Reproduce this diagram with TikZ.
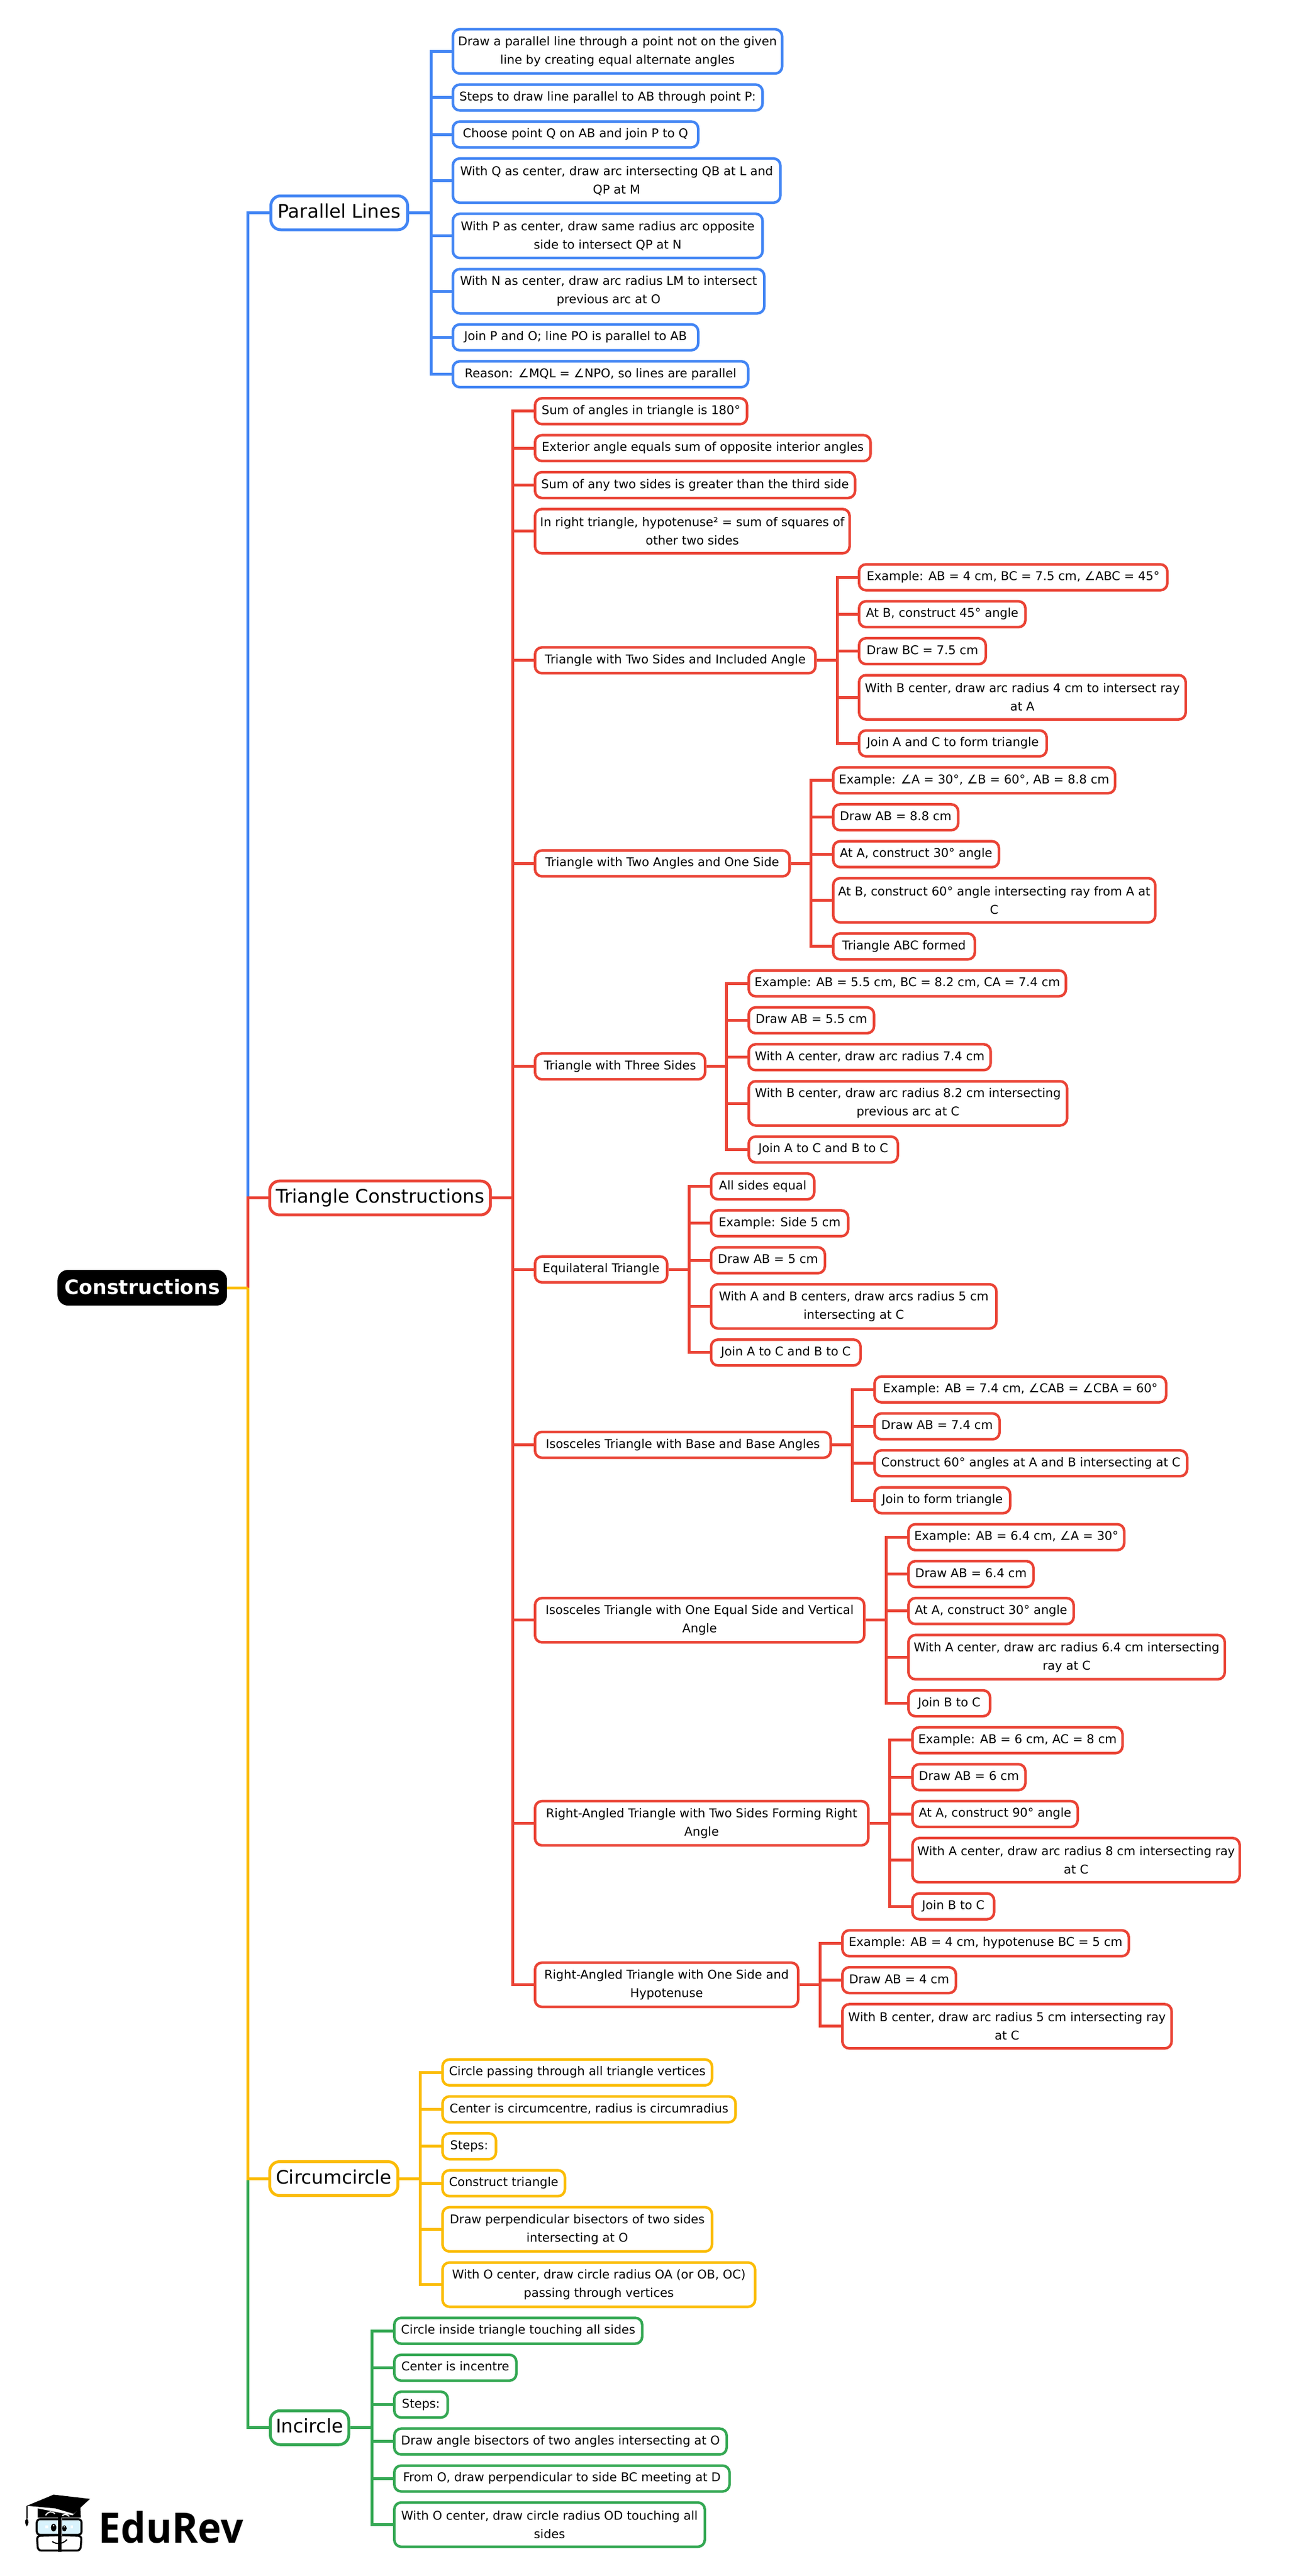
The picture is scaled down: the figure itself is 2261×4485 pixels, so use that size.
\documentclass[tikz,border=0pt]{standalone}
\usepackage{fontspec}
\setmainfont{DejaVu Sans}
\newfontfamily\logofont{Open Sans}
\definecolor{gblue}{HTML}{4285F4}
\definecolor{gred}{HTML}{EA4335}
\definecolor{gyellow}{HTML}{FBBC04}
\definecolor{ggreen}{HTML}{34A853}
\tikzset{
  wd/.style={minimum width=#1},
  leaf/.style={draw,fill=white,anchor=west,align=center,rounded corners=12,line width=4.5,
    inner xsep=4,inner ysep=0,minimum height=45,font=\fontsize{21.1}{32}\selectfont},
  one/.style={text height=15.5,text depth=4.5},
  two/.style={minimum height=77},
  branch/.style={draw,fill=white,anchor=west,rounded corners=17,line width=5,inner xsep=4,
    inner ysep=0,minimum height=59,text height=24,text depth=6,font=\fontsize{32.6}{36}\selectfont},
  rootbox/.style={fill=black,text=white,anchor=west,rounded corners=18,inner xsep=4,inner ysep=0,
    minimum height=62,text height=25,text depth=2,font=\fontsize{34.6}{38}\selectfont\bfseries},
  link/.style={line width=5,line join=miter}
}
\begin{document}
\begin{tikzpicture}[x=1pt,y=-1pt]
  \useasboundingbox (0,0) rectangle (2261,4485);
  \draw
    (100,2242) node[rootbox,wd=295] (root){Constructions}
    (469,370.5) node[branch,draw=gblue,wd=238] (par){Parallel Lines}
    (467,2085.7) node[branch,draw=gred,wd=384] (tri){Triangle Constructions}
    (467,3793) node[branch,draw=gyellow,wd=223] (cir){Circumcircle}
    (468,4226.7) node[branch,draw=ggreen,wd=136.5] (inc){Incircle};
  \begin{scope}[every node/.append style={leaf,draw=gblue}]
    \draw
      (786,89.5) node[two,wd=573] (par1){Draw a parallel line through a point not on the given\\line by creating equal alternate angles}
      (786,169.8) node[one,wd=539] (par2){Steps to draw line parallel to AB through point P:}
      (786,234.1) node[one,wd=427] (par3){Choose point Q on AB and join P to Q}
      (786,314.4) node[two,wd=570] (par4){With Q as center, draw arc intersecting QB at L and\\QP at M}
      (786,410.7) node[two,wd=539] (par5){With P as center, draw same radius arc opposite\\side to intersect QP at N}
      (786,507) node[two,wd=542] (par6){With N as center, draw arc radius LM to intersect\\previous arc at O}
      (786,587.3) node[one,wd=427] (par7){Join P and O; line PO is parallel to AB}
      (786,651.6) node[one,wd=514] (par8){Reason: ∠MQL = ∠NPO, so lines are parallel};
  \end{scope}
  \begin{scope}[every node/.append style={leaf,draw=gred}]
    \draw
      (929,715.9) node[one,wd=369] (tri1){Sum of angles in triangle is 180°}
      (929,780.2) node[one,wd=584] (tri2){Exterior angle equals sum of opposite interior angles}
      (929,844.5) node[one,wd=557] (tri3){Sum of any two sides is greater than the third side}
      (929,924.8) node[two,wd=547.5] (tri4){In right triangle, hypotenuse² = sum of squares of\\other two sides}
      (929,1149.7) node[one,wd=488] (tri5){Triangle with Two Sides and Included Angle}
      (929,1503.2) node[one,wd=443] (tri6){Triangle with Two Angles and One Side}
      (929,1856.7) node[one,wd=296] (tri7){Triangle with Three Sides}
      (929,2210.2) node[one,wd=230] (tri8){Equilateral Triangle}
      (929,2515.5) node[one,wd=514.5] (tri9){Isosceles Triangle with Base and Base Angles}
      (929,2820.9) node[two,wd=573] (tri10){Isosceles Triangle with One Equal Side and Vertical\\Angle}
      (929,3174.4) node[two,wd=580] (tri11){Right-Angled Triangle with Two Sides Forming Right\\Angle}
      (929,3455.6) node[two,wd=458] (tri12){Right-Angled Triangle with One Side and\\Hypotenuse};
    \draw
      (1493,1005.1) node[one,wd=536.5] (tsa1){Example: AB = 4 cm, BC = 7.5 cm, ∠ABC = 45°}
      (1493,1069.4) node[one,wd=289.5] (tsa2){At B, construct 45° angle}
      (1493,1133.7) node[one,wd=220.5] (tsa3){Draw BC = 7.5 cm}
      (1493,1214) node[two,wd=568.5] (tsa4){With B center, draw arc radius 4 cm to intersect ray\\at A}
      (1493,1294.3) node[one,wd=326.5] (tsa5){Join A and C to form triangle};
    \draw
      (1448,1358.6) node[one,wd=490.5] (taa1){Example: ∠A = 30°, ∠B = 60°, AB = 8.8 cm}
      (1448,1422.9) node[one,wd=217.5] (taa2){Draw AB = 8.8 cm}
      (1448,1487.2) node[one,wd=288.5] (taa3){At A, construct 30° angle}
      (1448,1567.5) node[two,wd=560.5] (taa4){At B, construct 60° angle intersecting ray from A at\\C}
      (1448,1647.8) node[one,wd=246.5] (taa5){Triangle ABC formed};
    \draw
      (1301,1712.1) node[one,wd=552] (tss1){Example: AB = 5.5 cm, BC = 8.2 cm, CA = 7.4 cm}
      (1301,1776.4) node[one,wd=218] (tss2){Draw AB = 5.5 cm}
      (1301,1840.7) node[one,wd=421] (tss3){With A center, draw arc radius 7.4 cm}
      (1301,1921) node[two,wd=554] (tss4){With B center, draw arc radius 8.2 cm intersecting\\previous arc at C}
      (1301,2001.3) node[one,wd=259.5] (tss5){Join A to C and B to C};
    \draw
      (1235.5,2065.6) node[one,wd=179.5] (equ1){All sides equal}
      (1235.5,2129.9) node[one,wd=238.5] (equ2){Example: Side 5 cm}
      (1235.5,2194.2) node[one,wd=198] (equ3){Draw AB = 5 cm}
      (1235.5,2274.5) node[two,wd=496.5] (equ4){With A and B centers, draw arcs radius 5 cm\\intersecting at C}
      (1235.5,2354.8) node[one,wd=260] (equ5){Join A to C and B to C};
    \draw
      (1520,2419.1) node[one,wd=507.5] (iba1){Example: AB = 7.4 cm, ∠CAB = ∠CBA = 60°}
      (1520,2483.4) node[one,wd=217.5] (iba2){Draw AB = 7.4 cm}
      (1520,2547.7) node[one,wd=544] (iba3){Construct 60° angles at A and B intersecting at C}
      (1520,2612) node[one,wd=236] (iba4){Join to form triangle};
    \draw
      (1579,2676.3) node[one,wd=375.5] (ieq1){Example: AB = 6.4 cm, ∠A = 30°}
      (1579,2740.6) node[one,wd=217.5] (ieq2){Draw AB = 6.4 cm}
      (1579,2804.9) node[one,wd=287.5] (ieq3){At A, construct 30° angle}
      (1579,2885.2) node[two,wd=550.5] (ieq4){With A center, draw arc radius 6.4 cm intersecting\\ray at C}
      (1579,2965.5) node[one,wd=142] (ieq5){Join B to C};
    \draw
      (1586,3029.8) node[one,wd=365.5] (rts1){Example: AB = 6 cm, AC = 8 cm}
      (1586,3094.1) node[one,wd=196.5] (rts2){Draw AB = 6 cm}
      (1586,3158.4) node[one,wd=287.5] (rts3){At A, construct 90° angle}
      (1586,3238.7) node[two,wd=569.5] (rts4){With A center, draw arc radius 8 cm intersecting ray\\at C}
      (1586,3319) node[one,wd=142] (rts5){Join B to C};
    \draw
      (1464,3383.3) node[one,wd=498.5] (ros1){Example: AB = 4 cm, hypotenuse BC = 5 cm}
      (1464,3447.6) node[one,wd=197.5] (ros2){Draw AB = 4 cm}
      (1464,3527.9) node[two,wd=573] (ros3){With B center, draw arc radius 5 cm intersecting ray\\at C};
  \end{scope}
  \begin{scope}[every node/.append style={leaf,draw=gyellow}]
    \draw
      (768,3608.2) node[one,wd=469] (cir1){Circle passing through all triangle vertices}
      (768,3672.5) node[one,wd=510] (cir2){Center is circumcentre, radius is circumradius}
      (768,3736.8) node[one,wd=93] (cir3){Steps:}
      (768,3801.1) node[one,wd=213] (cir4){Construct triangle}
      (768,3881.4) node[two,wd=469] (cir5){Draw perpendicular bisectors of two sides\\intersecting at O}
      (768,3977.7) node[two,wd=544] (cir6){With O center, draw circle radius OA (or OB, OC)\\passing through vertices};
  \end{scope}
  \begin{scope}[every node/.append style={leaf,draw=ggreen}]
    \draw
      (684,4058) node[one,wd=431.5] (inc1){Circle inside triangle touching all sides}
      (684,4122.3) node[one,wd=212.5] (inc2){Center is incentre}
      (684,4186.6) node[one,wd=93] (inc3){Steps:}
      (684,4250.9) node[one,wd=578.5] (inc4){Draw angle bisectors of two angles intersecting at O}
      (684,4315.2) node[one,wd=583.5] (inc5){From O, draw perpendicular to side BC meeting at D}
      (684,4395.5) node[two,wd=540.5] (inc6){With O center, draw circle radius OD touching all\\sides};
  \end{scope}
  \coordinate (rootj) at (431,2242);
  \coordinate (parj) at (750,370.5);
  \coordinate (trij) at (892,2085.7);
  \coordinate (tsaj) at (1457,1149.7);
  \coordinate (taaj) at (1411.5,1503.2);
  \coordinate (tssj) at (1264.5,1856.7);
  \coordinate (equj) at (1199,2210.2);
  \coordinate (ibaj) at (1483,2515.5);
  \coordinate (ieqj) at (1542,2820.9);
  \coordinate (rtsj) at (1548.5,3174.4);
  \coordinate (rosj) at (1427,3455.6);
  \coordinate (cirj) at (731,3793);
  \coordinate (incj) at (647,4226.7);
  \begin{scope}[link,gblue]
    \draw (rootj) |- (par.west);
    \draw (par.east) -- (parj) |- (par1.west);
    \draw (parj) |- (par2.west);
    \draw (parj) |- (par3.west);
    \draw (parj) |- (par4.west);
    \draw (parj) |- (par5.west);
    \draw (parj) |- (par6.west);
    \draw (parj) |- (par7.west);
    \draw (parj) |- (par8.west);
  \end{scope}
  \begin{scope}[link,gred]
    \draw (rootj) |- (tri.west);
    \draw (tri.east) -- (trij) |- (tri1.west);
    \draw (trij) |- (tri2.west);
    \draw (trij) |- (tri3.west);
    \draw (trij) |- (tri4.west);
    \draw (trij) |- (tri5.west);
    \draw (trij) |- (tri6.west);
    \draw (trij) |- (tri7.west);
    \draw (trij) |- (tri8.west);
    \draw (trij) |- (tri9.west);
    \draw (trij) |- (tri10.west);
    \draw (trij) |- (tri11.west);
    \draw (trij) |- (tri12.west);
    \draw (tri5.east) -- (tsaj) |- (tsa1.west);
    \draw (tsaj) |- (tsa2.west);
    \draw (tsaj) |- (tsa3.west);
    \draw (tsaj) |- (tsa4.west);
    \draw (tsaj) |- (tsa5.west);
    \draw (tri6.east) -- (taaj) |- (taa1.west);
    \draw (taaj) |- (taa2.west);
    \draw (taaj) |- (taa3.west);
    \draw (taaj) |- (taa4.west);
    \draw (taaj) |- (taa5.west);
    \draw (tri7.east) -- (tssj) |- (tss1.west);
    \draw (tssj) |- (tss2.west);
    \draw (tssj) |- (tss3.west);
    \draw (tssj) |- (tss4.west);
    \draw (tssj) |- (tss5.west);
    \draw (tri8.east) -- (equj) |- (equ1.west);
    \draw (equj) |- (equ2.west);
    \draw (equj) |- (equ3.west);
    \draw (equj) |- (equ4.west);
    \draw (equj) |- (equ5.west);
    \draw (tri9.east) -- (ibaj) |- (iba1.west);
    \draw (ibaj) |- (iba2.west);
    \draw (ibaj) |- (iba3.west);
    \draw (ibaj) |- (iba4.west);
    \draw (tri10.east) -- (ieqj) |- (ieq1.west);
    \draw (ieqj) |- (ieq2.west);
    \draw (ieqj) |- (ieq3.west);
    \draw (ieqj) |- (ieq4.west);
    \draw (ieqj) |- (ieq5.west);
    \draw (tri11.east) -- (rtsj) |- (rts1.west);
    \draw (rtsj) |- (rts2.west);
    \draw (rtsj) |- (rts3.west);
    \draw (rtsj) |- (rts4.west);
    \draw (rtsj) |- (rts5.west);
    \draw (tri12.east) -- (rosj) |- (ros1.west);
    \draw (rosj) |- (ros2.west);
    \draw (rosj) |- (ros3.west);
  \end{scope}
  \begin{scope}[link,ggreen]
    \draw (cir.west -| rootj) |- (inc.west);
    \draw (inc.east) -- (incj) |- (inc1.west);
    \draw (incj) |- (inc2.west);
    \draw (incj) |- (inc3.west);
    \draw (incj) |- (inc4.west);
    \draw (incj) |- (inc5.west);
    \draw (incj) |- (inc6.west);
  \end{scope}
  \begin{scope}[link,gyellow]
    \draw (rootj) |- (cir.west);
    \draw (root.east) -- (rootj);
    \draw (cir.east) -- (cirj) |- (cir1.west);
    \draw (cirj) |- (cir2.west);
    \draw (cirj) |- (cir3.west);
    \draw (cirj) |- (cir4.west);
    \draw (cirj) |- (cir5.west);
    \draw (cirj) |- (cir6.west);
  \end{scope}
  \begin{scope}[shift={(30,4320)},x=0.3333pt,y=-0.3333pt]
    \fill (50,128) -- (190,70) -- (380,92) -- (295,170) -- (200,142) -- cycle;
    \fill (107,142) -- (290,178) -- (330,135) -- (332,190) -- (107,190) -- cycle;
    \draw[white,line width=2] (148,178) .. controls (165,155) and (180,155) .. (197,170);
    \draw[white,line width=2] (235,180) .. controls (248,170) and (260,172) .. (272,184);
    \draw[line width=2] (50,128) -- (50,195);
    \fill (50,195) .. controls (35,205) and (42,225) .. (50,236) .. controls (58,225) and (65,205) .. (50,195);
    \draw[line width=3.5,fill=cyan!15!white,rounded corners=6] (102,198) rectangle (336,280);
    \draw[line width=3.5,rounded corners=6] (218,362) -- (108,362) -- (103,285) -- (218,282);
    \draw[line width=3.5,rounded corners=6] (228,362) -- (330,362) -- (336,285) -- (228,282);
    \fill[white] (212,190) rectangle (234,285);
    \draw[line width=3] (218,190) -- (218,368);
    \draw[line width=3] (228,190) -- (228,368);
    \fill (190,242) ellipse [x radius=14,y radius=20];
    \fill (246,246) ellipse [x radius=12,y radius=16];
    \fill[white] (190,232) circle [radius=4];
    \fill[white] (246,238) circle [radius=3];
    \fill[white] (148,232) rectangle (162,246);
    \fill[white] (278,232) rectangle (292,246);
    \draw[line width=2] (183,315) .. controls (205,330) and (235,330) .. (260,305);
    \node[anchor=base west,inner sep=0,text=black,xscale=0.945,font=\logofont\bfseries\fontsize{73}{80}\selectfont] (logotext) at (425,322) {EduRev};
  \end{scope}
\end{tikzpicture}
\end{document}
